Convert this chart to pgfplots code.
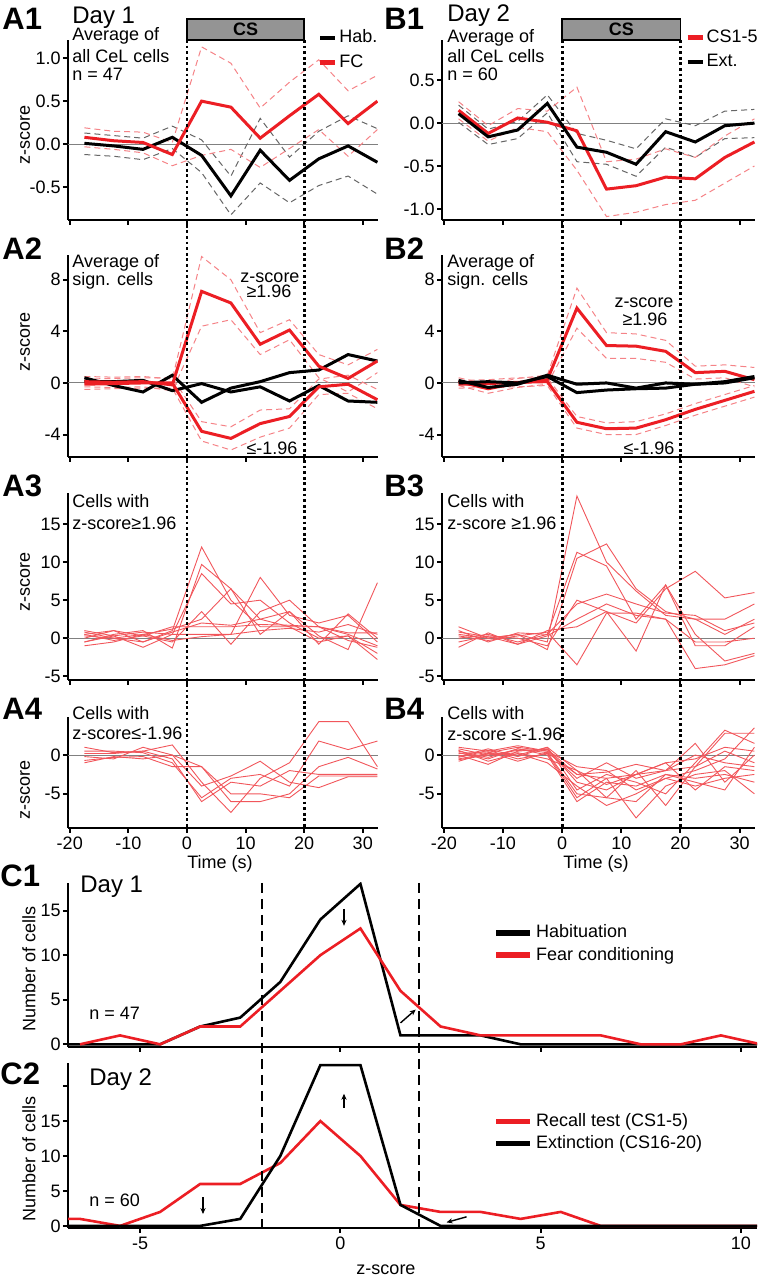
\documentclass[border=0pt]{standalone}
\usepackage{fontspec}
\setmainfont{Liberation Sans}
\usepackage{pgfplots}
\usepackage{pgfplotstable}
\pgfplotsset{compat=1.18}
\usetikzlibrary{arrows.meta,calc}

\definecolor{cred}{RGB}{236,30,36}
\newcommand\ft{\fontsize{9}{10.8}\selectfont}
\newcommand\fday{\fontsize{12}{14}\selectfont}
\newcommand\flab{\fontsize{15.5}{18}\selectfont\bfseries}

\pgfplotsset{
  base/.style={scale only axis, no markers,
    axis x line*=bottom, axis y line*=left,
    axis line style={line width=1.2pt, black},
    tick align=outside, major tick length=2.5pt,
    tick style={line width=1pt, black},
    ticklabel style={font=\ft},
    yticklabel style={inner sep=1pt},
    xticklabel style={inner sep=2pt},
    /pgf/number format/assume math mode=true},
  tcol/.style={base, xmin=-20.3, xmax=32.6, xtick={-20,-10,0,10,20,30},
    extra y ticks={0}, extra y tick labels={},
    extra y tick style={grid=major, major tick length=0pt},
    major grid style={black!50, line width=0.5pt}},
  Acol/.style={tcol, width=155pt},
  Bcol/.style={tcol, width=156.5pt},
  ccol/.style={base, width=344.5pt, xmin=-6.8, xmax=10.4, xtick={-5,0,5,10}},
  mk/.style={black, line width=1.5pt},
  mr/.style={cred, line width=1.5pt},
  sk/.style={black!60, line width=0.5pt, dash pattern=on 3pt off 2pt, forget plot},
  sr/.style={cred!55, line width=0.5pt, dash pattern=on 3pt off 2pt, forget plot},
  tr/.style={cred!75, line width=0.45pt, forget plot},
  hk/.style={black, line width=1.3pt},
  hr/.style={cred, line width=1.3pt},
  shortleg/.style={legend style={draw=none, fill=none, inner sep=0pt, font=\ft,
      nodes={inner sep=1pt}, row sep=2.5pt, legend cell align=left, anchor=north west},
    legend image code/.code={\draw[##1, line width=2.2pt] (0pt,0pt) -- (7.5pt,0pt);}},
  cleg/.style={legend style={draw=none, fill=none, inner sep=0pt, font=\ft,
      nodes={inner sep=1.5pt}, row sep=0pt, legend cell align=left, anchor=north west},
    legend image code/.code={\draw[##1, line width=2.8pt] (0pt,0pt) -- (17pt,0pt);}},
}

% A1 / B1: mean and mean +/- SEM of all cells
\pgfplotstableread{
t hab habU habL fc fcU fcL
-17.5 0.01 0.13 -0.12 0.08 0.19 -0.03
-12.5 -0.02 0.10 -0.14 0.04 0.15 -0.06
-7.5 -0.06 0.07 -0.18 0.02 0.14 -0.10
-2.5 0.08 0.21 -0.05 -0.12 0.02 -0.25
2.5 -0.13 0.05 -0.33 0.50 1.13 -0.13
7.5 -0.60 -0.37 -0.82 0.43 0.94 -0.06
12.5 -0.07 0.30 -0.45 0.07 0.42 -0.27
17.5 -0.42 -0.15 -0.68 0.33 0.72 -0.05
22.5 -0.17 0.15 -0.48 0.58 0.98 0.17
27.5 -0.02 0.33 -0.37 0.24 0.62 -0.14
32.5 -0.21 0.18 -0.58 0.50 0.80 0.17
}\tabAone

\pgfplotstableread{
t ext extU extL cs csU csL
-17.5 0.11 0.21 0.01 0.15 0.25 0.05
-12.5 -0.16 -0.07 -0.25 -0.12 -0.03 -0.21
-7.5 -0.08 0.02 -0.18 0.06 0.17 -0.05
-2.5 0.23 0.33 0.12 0.01 0.14 -0.10
2.5 -0.28 -0.12 -0.45 -0.09 0.42 -0.55
7.5 -0.34 -0.20 -0.48 -0.77 -0.45 -1.09
12.5 -0.48 -0.30 -0.62 -0.73 -0.42 -1.04
17.5 -0.10 0.05 -0.28 -0.63 -0.30 -0.95
22.5 -0.22 -0.03 -0.40 -0.65 -0.40 -0.90
27.5 -0.03 0.14 -0.18 -0.40 -0.15 -0.70
32.5 0.00 0.16 -0.17 -0.22 0.05 -0.50
}\tabBone

% A2 / B2: significant cells
\pgfplotstableread{
t h1 h2 fp fpU fpL fn fnU fnL
-17.5 0.4 0.1 0.1 0.5 -0.3 -0.1 0.3 -0.5
-12.5 -0.2 0.1 0.05 0.45 -0.35 -0.05 0.35 -0.45
-7.5 -0.7 0.2 0.1 0.5 -0.3 0.0 0.4 -0.4
-2.5 0.6 -0.6 -0.15 0.3 -0.6 0.0 0.4 -0.4
2.5 -1.5 -0.05 7.1 9.8 4.4 -3.75 -3.0 -4.5
7.5 -0.4 -0.7 6.2 8.0 4.9 -4.3 -3.4 -5.2
12.5 0.1 -0.3 3.0 3.9 2.2 -3.15 -2.1 -4.2
17.5 0.8 -1.4 4.1 4.9 3.35 -2.6 -2.0 -3.5
22.5 1.0 -0.2 1.3 2.2 0.4 -0.3 0.3 -0.9
27.5 2.2 -1.4 0.35 1.4 -0.7 -0.1 0.6 -0.8
32.5 1.7 -1.5 1.7 2.6 0.8 -1.3 -0.5 -2.0
}\tabAtwo

\pgfplotstableread{
t e1 e2 cp cpU cpL cn cnU cnL
-17.5 0.2 0.0 0.1 0.4 -0.2 -0.1 0.2 -0.4
-12.5 -0.35 0.1 -0.45 -0.1 -0.8 -0.05 0.25 -0.35
-7.5 -0.1 0.0 0.0 0.35 -0.35 0.05 0.4 -0.3
-2.5 0.6 0.5 0.25 0.6 -0.1 0.1 0.4 -0.2
2.5 -0.1 -0.75 5.8 7.35 4.25 -3.05 -2.6 -3.5
7.5 0.0 -0.55 2.9 3.9 1.9 -3.55 -3.1 -4.0
12.5 -0.4 -0.45 2.85 3.8 1.9 -3.5 -3.0 -4.0
17.5 0.0 -0.4 2.45 3.3 1.6 -2.85 -2.4 -3.3
22.5 -0.1 -0.1 0.8 1.3 0.3 -2.05 -1.6 -2.5
27.5 0.0 0.1 0.9 1.4 0.4 -1.35 -0.9 -1.8
32.5 0.4 0.5 0.25 1.2 -0.3 -0.65 -0.2 -1.1
}\tabBtwo

% A3 / B3: single cells, z-score >= 1.96
\pgfplotstableread{
t c1 c2 c3 c4 c5 c6 c7 c8 c9
-17.5 0.5 -0.5 1.0 0.0 -1.0 0.5 -0.5 0.3 0.8
-12.5 1.0 0.5 0.3 1.0 -0.5 -0.3 0.3 0.0 0.0
-7.5 -0.5 1.0 -1.2 0.3 0.5 0.3 0.8 -0.5 0.5
-2.5 1.0 -1.3 0.5 -0.5 1.2 1.5 0.5 0.8 -0.3
2.5 12.0 9.7 8.5 3.5 2.5 1.5 0.5 2.0 0.2
7.5 5.0 6.5 4.5 -0.8 6.5 1.5 0.5 1.7 0.5
12.5 1.5 2.5 5.0 3.5 0.5 1.8 8.0 2.5 1.0
17.5 1.5 1.5 2.0 5.0 3.5 1.7 3.0 3.5 1.3
22.5 1.5 -0.5 0.0 1.5 -0.8 1.5 2.0 0.3 0.8
27.5 0.5 0.3 0.3 -0.3 3.2 0.7 3.0 -1.5 1.8
32.5 -1.0 -2.0 -2.8 -1.2 0.0 0.7 -0.5 7.3 0.5
}\tabAthree

\pgfplotstableread{
t u1 u2 u3 u4 u5 u6 u7 u8
-17.5 0.5 0.0 1.5 -0.5 1.0 -1.2 0.3 0.8
-12.5 0.0 0.5 0.0 0.3 -0.5 0.7 -0.3 0.2
-7.5 0.5 -0.5 0.5 0.0 0.7 -0.8 0.3 -0.8
-2.5 -0.5 0.5 -1.5 -1.0 0.5 1.0 0.8 0.3
2.5 18.7 11.3 10.5 5.0 4.5 1.5 -3.5 2.5
7.5 10.0 9.5 12.4 3.5 5.8 3.5 3.3 4.5
12.5 6.2 2.5 6.5 2.0 4.5 -1.7 3.3 3.0
17.5 3.0 7.0 3.5 6.5 3.3 7.0 2.5 2.5
22.5 2.5 -1.0 2.5 8.8 3.0 0.5 -4.0 -0.5
27.5 2.5 -1.0 0.5 5.3 1.0 -3.0 -3.5 -0.5
32.5 4.5 1.5 2.5 6.0 2.0 -2.0 -2.3 0.0
}\tabBthree

% A4 / B4: single cells, z-score <= -1.96
\pgfplotstableread{
t v1 v2 v3 v4 v5 v6
-17.5 1.0 0.5 -1.0 -0.2 0.2 -0.7
-12.5 0.3 0.5 -0.2 -0.5 0.2 -0.3
-7.5 0.5 0.3 -0.5 1.0 0.5 -0.2
-2.5 1.3 -1.0 0.0 0.0 -0.5 -1.5
2.5 -3.5 -5.5 -1.5 -4.0 -6.0 -1.5
7.5 -7.4 -3.0 -6.0 -2.7 -3.5 -5.0
12.5 -3.0 -2.5 -6.0 -0.8 -4.0 -5.0
17.5 -1.0 -4.0 -5.0 -3.5 -2.0 -5.5
22.5 4.3 1.8 -1.5 -4.2 -2.5 -2.7
27.5 4.3 0.7 -0.3 -2.8 -2.5 -2.7
32.5 -1.5 1.8 -1.8 -2.8 -2.5 -2.7
}\tabAfour

\pgfplotstableread{
t w1 w2 w3 w4 w5 w6 w7 w8 w9 w10 w11 w12
-17.5 0.5 -0.5 1.0 0.0 -0.3 0.8 -0.8 0.3 -0.2 0.6 -0.6 0.2
-12.5 -0.3 0.2 0.5 -1.2 0.6 0.0 0.3 -0.5 0.8 -0.8 0.0 0.4
-7.5 0.8 0.0 1.2 0.5 -0.5 0.3 1.0 0.8 -0.2 0.2 0.6 -0.8
-2.5 0.3 1.0 0.5 0.8 0.2 -0.5 0.5 0.0 1.0 -1.0 0.7 0.3
2.5 -2.5 -4.5 -1.5 -3.5 -5.5 -2.0 -3.0 -6.0 -2.0 -4.0 -2.5 -5.0
7.5 -3.0 -2.5 -2.0 -4.5 -3.0 -5.5 -1.0 -3.5 -3.8 -6.5 -2.2 -5.5
12.5 -2.5 -3.5 -4.5 -2.5 -8.1 -2.0 -3.0 -4.0 -2.5 -5.0 -1.2 -6.0
17.5 -2.0 -5.0 -3.0 -1.0 -4.0 -6.5 -2.0 -2.5 -1.0 -3.0 -2.0 -2.5
22.5 -1.5 -1.0 -2.0 -4.5 -2.5 -1.5 1.5 -3.0 -0.5 -4.0 0.0 -3.5
27.5 2.8 3.2 -0.5 -1.5 -2.0 0.5 -3.5 -2.5 1.0 -3.0 -1.0 -4.5
32.5 2.8 1.5 3.5 -2.0 -5.0 -1.0 0.0 -3.5 0.5 -2.5 -1.5 1.0
}\tabBfour

\begin{document}
\begin{tikzpicture}

% ---------------- row 1
\begin{axis}[Acol, shortleg, at={(34pt,530pt)}, height=90pt,
  ymin=-0.88, ymax=1.21, ytick={-0.5,0,0.5,1}, yticklabels={-0.5,0.0,0.5,1.0},
  xticklabels={}, legend style={at={(0.805,1.07)}}]
\addplot[sk] table[x=t,y=habU]{\tabAone};
\addplot[sk] table[x=t,y=habL]{\tabAone};
\addplot[sr] table[x=t,y=fcU]{\tabAone};
\addplot[sr] table[x=t,y=fcL]{\tabAone};
\addplot[mk] table[x=t,y=hab]{\tabAone}; \addlegendentry{Hab.}
\addplot[mr] table[x=t,y=fc]{\tabAone}; \addlegendentry{FC}
\coordinate (a0t) at (axis cs:0,1.21);
\coordinate (a20t) at (axis cs:20,1.21);
\end{axis}

\begin{axis}[Bcol, shortleg, at={(221pt,530pt)}, height=90pt,
  ymin=-1.13, ymax=0.97, ytick={-1,-0.5,0,0.5}, yticklabels={-1.0,-0.5,0.0,0.5},
  xticklabels={}, legend style={at={(0.776,1.07)}}]
\addplot[sk] table[x=t,y=extU]{\tabBone};
\addplot[sk] table[x=t,y=extL]{\tabBone};
\addplot[sr] table[x=t,y=csU]{\tabBone};
\addplot[sr] table[x=t,y=csL]{\tabBone};
\addplot[mr] table[x=t,y=cs]{\tabBone}; \addlegendentry{CS1-5}
\addplot[mk] table[x=t,y=ext]{\tabBone}; \addlegendentry{Ext.}
\coordinate (b0t) at (axis cs:0,0.97);
\coordinate (b20t) at (axis cs:20,0.97);
\end{axis}

% ---------------- row 2
\begin{axis}[Acol, at={(34pt,411.5pt)}, height=101pt,
  ymin=-5.74, ymax=9.92, ytick={-4,0,4,8}, xticklabels={}]
\addplot[sr] table[x=t,y=fpU]{\tabAtwo};
\addplot[sr] table[x=t,y=fpL]{\tabAtwo};
\addplot[sr] table[x=t,y=fnU]{\tabAtwo};
\addplot[sr] table[x=t,y=fnL]{\tabAtwo};
\addplot[mk] table[x=t,y=h1]{\tabAtwo};
\addplot[mk] table[x=t,y=h2]{\tabAtwo};
\addplot[mr] table[x=t,y=fp]{\tabAtwo};
\addplot[mr] table[x=t,y=fn]{\tabAtwo};
\end{axis}

\begin{axis}[Bcol, at={(221pt,411.5pt)}, height=101pt,
  ymin=-5.74, ymax=9.92, ytick={-4,0,4,8}, xticklabels={}]
\addplot[sr] table[x=t,y=cpU]{\tabBtwo};
\addplot[sr] table[x=t,y=cpL]{\tabBtwo};
\addplot[sr] table[x=t,y=cnU]{\tabBtwo};
\addplot[sr] table[x=t,y=cnL]{\tabBtwo};
\addplot[mr] table[x=t,y=cp]{\tabBtwo};
\addplot[mr] table[x=t,y=cn]{\tabBtwo};
\addplot[mk] table[x=t,y=e1]{\tabBtwo};
\addplot[mk] table[x=t,y=e2]{\tabBtwo};
\end{axis}

% ---------------- row 3
\begin{axis}[Acol, at={(34pt,300pt)}, height=93.5pt,
  ymin=-5.5, ymax=19.1, ytick={-5,0,5,10,15}, xticklabels={}]
\pgfplotsinvokeforeach{c1,c2,c3,c4,c5,c6,c7,c8,c9}{
  \addplot[tr] table[x=t,y=#1]{\tabAthree};}
\end{axis}

\begin{axis}[Bcol, at={(221pt,300pt)}, height=93.5pt,
  ymin=-5.5, ymax=19.1, ytick={-5,0,5,10,15}, xticklabels={}]
\pgfplotsinvokeforeach{u1,u2,u3,u4,u5,u6,u7,u8}{
  \addplot[tr] table[x=t,y=#1]{\tabBthree};}
\end{axis}

% ---------------- row 4
\begin{axis}[Acol, at={(34pt,226pt)}, height=55.5pt,
  ymin=-9.4, ymax=4.9, ytick={-5,0}]
\pgfplotsinvokeforeach{v1,v2,v3,v4,v5,v6}{
  \addplot[tr] table[x=t,y=#1]{\tabAfour};}
\coordinate (a0b) at (axis cs:0,-9.4);
\coordinate (a20b) at (axis cs:20,-9.4);
\end{axis}

\begin{axis}[Bcol, at={(221pt,226pt)}, height=55.5pt,
  ymin=-9.4, ymax=4.9, ytick={-5,0}]
\pgfplotsinvokeforeach{w1,w2,w3,w4,w5,w6,w7,w8,w9,w10,w11,w12}{
  \addplot[tr] table[x=t,y=#1]{\tabBfour};}
\coordinate (b0b) at (axis cs:0,-9.4);
\coordinate (b20b) at (axis cs:20,-9.4);
\end{axis}

% ---------------- C1 histogram, day 1
\begin{axis}[ccol, cleg, at={(34pt,116.5pt)}, height=82pt,
  ymin=-0.3, ymax=18.1, ytick={0,5,10,15}, xticklabels={},
  legend style={at={(0.617,0.765)}}]
\addplot[hk] coordinates {(-7.5,0) (-6.5,0) (-5.5,0) (-4.5,0) (-3.5,2) (-2.5,3)
  (-1.5,7) (-0.5,14) (0.5,18) (1.5,1) (2.5,1) (3.5,1) (4.5,0) (5.5,0) (6.5,0)
  (7.5,0) (8.5,0) (9.5,0) (10.5,0)};
\addlegendentry{Habituation}
\addplot[hr] coordinates {(-6.5,0) (-5.5,1) (-4.5,0) (-3.5,2) (-2.5,2) (-1.5,6)
  (-0.5,10) (0.5,13) (1.5,6) (2.5,2) (3.5,1) (4.5,1) (5.5,1) (6.5,1) (7.5,0)
  (8.5,0) (9.5,1) (10.5,0)};
\addlegendentry{Fear conditioning}
\draw[-{Stealth[length=3pt,width=2.6pt]}, line width=0.7pt] (axis cs:0.09,15.2) -- (axis cs:0.09,13.3);
\draw[-{Stealth[length=3pt,width=2.6pt]}, line width=0.7pt] (axis cs:1.5,2.4) -- (axis cs:1.88,3.9);
\coordinate (c1a) at (axis cs:-1.96,18.1);
\coordinate (c1b) at (axis cs:1.96,18.1);
\end{axis}

% ---------------- C2 histogram, day 2
\begin{axis}[ccol, cleg, at={(34pt,26pt)}, height=82.5pt,
  ymin=-0.3, ymax=23.3, ytick={0,5,10,15,20}, yticklabels={0,5,10,15,{}},
  legend style={at={(0.617,0.715)}}]
\addplot[hr] coordinates {(-7.5,1) (-6.5,1) (-5.5,0) (-4.5,2) (-3.5,6) (-2.5,6)
  (-1.5,9) (-0.5,15) (0.5,10) (1.5,3) (2.5,2) (3.5,2) (4.5,1) (5.5,2) (6.5,0)
  (7.5,0) (8.5,0) (9.5,0) (10.5,0)};
\addlegendentry{Recall test (CS1-5)}
\addplot[hk] coordinates {(-7.5,0) (-6.5,0) (-5.5,0) (-4.5,0) (-3.5,0) (-2.5,1)
  (-1.5,10) (-0.5,23) (0.5,23) (1.5,3) (2.5,0) (3.5,0) (4.5,0) (5.5,0) (6.5,0)
  (7.5,0) (8.5,0) (9.5,0) (10.5,0)};
\addlegendentry{Extinction (CS16-20)}
\draw[-{Stealth[length=3pt,width=2.6pt]}, line width=0.7pt] (axis cs:0.09,16.9) -- (axis cs:0.09,18.9);
\draw[-{Stealth[length=3pt,width=2.6pt]}, line width=0.7pt] (axis cs:-3.43,4.1) -- (axis cs:-3.43,1.7);
\draw[-{Stealth[length=3pt,width=2.6pt]}, line width=0.7pt] (axis cs:3.15,1.3) -- (axis cs:2.65,0.5);
\coordinate (c2a) at (axis cs:-1.96,-0.3);
\coordinate (c2b) at (axis cs:1.96,-0.3);
\end{axis}

% CS bars and stimulus borders
\foreach \p in {a,b}{
  \draw[line width=0.8pt, fill=black!42] (\p0t) rectangle ([yshift=10.5pt]\p20t);
  \node[font=\ft\bfseries] at ($(\p0t)!0.5!([yshift=10.5pt]\p20t)$) {CS};
  \draw[line width=1.4pt, dash pattern=on 1.4pt off 1.4pt] (\p0t) -- (\p0b);
  \draw[line width=1.4pt, dash pattern=on 1.4pt off 1.4pt] (\p20t) -- (\p20b);
}
\draw[line width=1pt, dash pattern=on 5pt off 3pt] (c1a) -- (c2a);
\draw[line width=1pt, dash pattern=on 5pt off 3pt] (c1b) -- (c2b);

% texts, positioned in pixel units of the reference
\begin{scope}[shift={(0pt,640pt)}, x=0.5pt, y=-0.5pt]
\foreach \l/\x/\y in {A1/2/30, A2/2/260, A3/2/497, A4/2/720,
    B1/384/30, B2/384/260, B3/384/497, B4/384/720, C1/0/887, C2/0/1085}
  \node[anchor=base west, inner sep=0, font=\flab] at (\x,\y) {\l};
\node[anchor=base west, inner sep=0, font=\fday] at (72,24) {Day 1};
\node[anchor=base west, inner sep=0, font=\fday] at (447,22) {Day 2};
\node[anchor=base west, inner sep=0, font=\fday] at (80,893) {Day 1};
\node[anchor=base west, inner sep=0, font=\fday] at (89,1086) {Day 2};
\begin{scope}[every node/.style={anchor=base west, inner sep=0, font=\ft}]
\node at (72,41) {Average of};
\node at (72,63) {all CeL cells};
\node at (72,81) {n = 47};
\node at (447,43) {Average of};
\node at (447,63) {all CeL cells};
\node at (447,81) {n = 60};
\node at (72,268) {Average of};
\node at (72,286) {sign. cells};
\node at (447,268) {Average of};
\node at (447,286) {sign. cells};
\node at (72,508) {Cells with};
\node at (72,530) {z-score≥1.96};
\node at (447,508) {Cells with};
\node at (447,530) {z-score ≥1.96};
\node at (72,720) {Cells with};
\node at (72,740) {z-score≤-1.96};
\node at (447,720) {Cells with};
\node at (447,741) {z-score ≤-1.96};
\node at (89,1020) {n = 47};
\node at (89,1207) {n = 60};
\end{scope}
\begin{scope}[every node/.style={anchor=base, inner sep=0, font=\ft}]
\node at (270,283) {z-score};
\node at (269,298) {≥1.96};
\node at (272,455) {≤-1.96};
\node at (644,308) {z-score};
\node at (645,326) {≥1.96};
\node at (649,455) {≤-1.96};
\node at (220,869) {Time (s)};
\node at (596,869) {Time (s)};
\node at (386,1275) {z-score};
\end{scope}
\begin{scope}[every node/.style={rotate=90, inner sep=0, font=\ft}]
\node at (25,135) {z-score};
\node at (25,342) {z-score};
\node at (25,582) {z-score};
\node at (25,790) {z-score};
\node at (29,969) {Number of cells};
\node at (29,1159) {Number of cells};
\end{scope}
\end{scope}

\pgfresetboundingbox
\useasboundingbox (0,0) rectangle (379.5pt,640pt);
\end{tikzpicture}
\end{document}
